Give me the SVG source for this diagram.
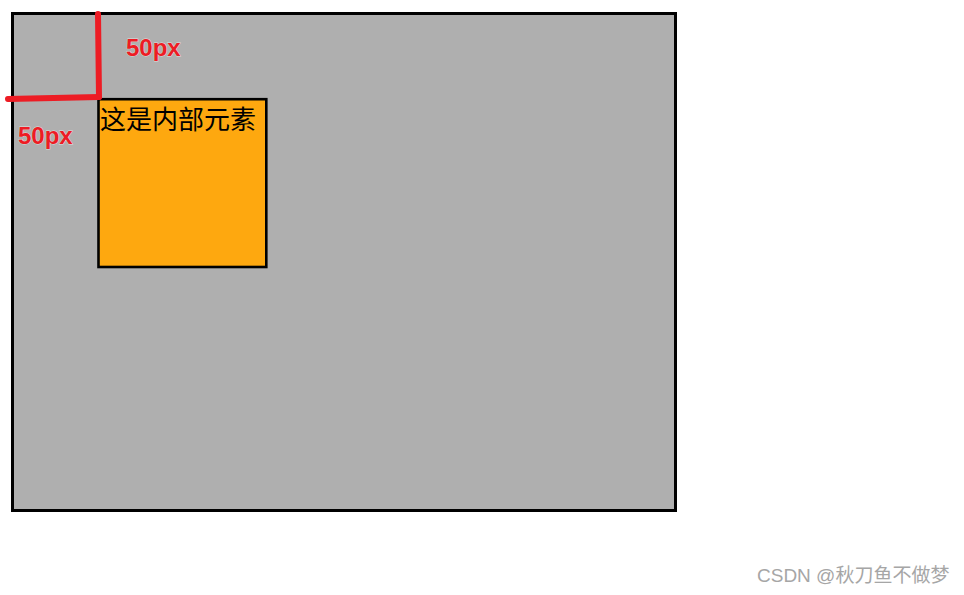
<svg xmlns="http://www.w3.org/2000/svg" width="964" height="595" viewBox="0 0 964 595">
<style>
.lbl{font-family:"Liberation Sans","Noto Sans",sans-serif;font-weight:bold;font-size:24px;fill:#ed1c24;stroke:#ffffff;stroke-width:0.8;stroke-opacity:0.6;paint-order:stroke}
.red{stroke:#ed1c24;stroke-width:6;stroke-linecap:round;fill:none}
</style>
<rect width="964" height="595" fill="#ffffff"/>
<g id="outer">
<rect x="12.5" y="13.5" width="663" height="497" fill="#afafaf" stroke="#000000" stroke-width="3"/>
</g>
<g id="inner">
<rect x="98.5" y="99.2" width="167.8" height="167.8" fill="#fea80f" stroke="#000000" stroke-width="2.6"/>
<text x="100" y="129" font-family="'Noto Sans CJK SC',sans-serif" font-size="26" fill="#000000">这是内部元素</text>
</g>
<g id="connectors">
<path class="red" d="M98 14 L99 97"/>
<path class="red" d="M8 99 L99 97"/>
</g>
<g id="labels">
<text class="lbl" x="126" y="56">50px</text>
<text class="lbl" x="18" y="144">50px</text>
</g>
<text x="757" y="582" font-family="'Liberation Sans','Noto Sans CJK SC',sans-serif" font-size="19" fill="#a6a6a6">CSDN @秋刀鱼不做梦</text>
</svg>
